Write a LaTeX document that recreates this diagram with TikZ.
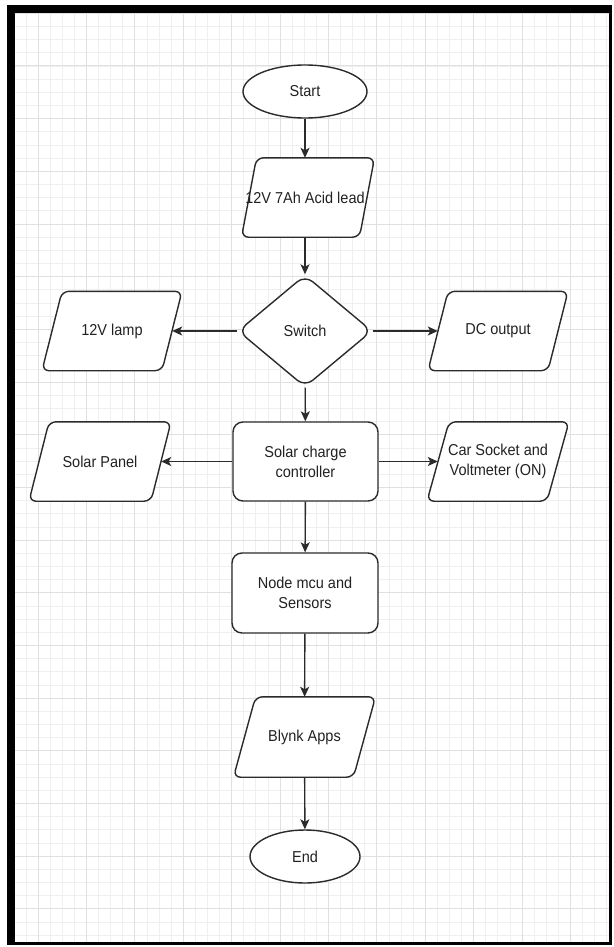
\documentclass[tikz,border=0pt]{standalone}
\usepackage{fontspec}
\setmainfont{Liberation Sans}
\usetikzlibrary{shapes.geometric,arrows.meta,calc}
\pgfdeclarelayer{bg}
\pgfdeclarelayer{mid}
\pgfsetlayers{bg,mid,main}
\definecolor{lc}{HTML}{2B2B2B}
\definecolor{txt}{HTML}{222222}
\definecolor{gminor}{HTML}{EFEFEF}
\definecolor{gmajor}{HTML}{E0E0E0}
\newcommand\T[1]{\scalebox{1}[1.09]{#1}}
\newcommand\drawpara[4]{% node, half edge, slant, x offset
  \draw[shapeline, rounded corners=7pt, fill=white]
    ($(#1.north)+(#4-#2+#3/2,0)$) -- ($(#1.north)+(#4+#2+#3/2,0)$) --
    ($(#1.south)+(#4+#2-#3/2,0)$) -- ($(#1.south)+(#4-#2-#3/2,0)$) -- cycle;}
\begin{document}
\begin{tikzpicture}[x=1pt,y=-1pt,
  shapeline/.style={draw=lc, line width=1.4pt},
  base/.style={inner sep=0pt, align=center, text=txt, font=\fontsize{14.5}{20}\selectfont},
  term/.style={base, ellipse, shapeline, fill=white},
  proc/.style={base, rectangle, shapeline, fill=white, rounded corners=10pt, minimum width=145pt, minimum height=79pt},
  dec/.style={base, diamond, shapeline, fill=white, rounded corners=10pt, minimum width=134pt, minimum height=112pt},
  paratext/.style={base, rectangle, minimum height=79pt},
  arr/.style={draw=lc, line width=1.4pt, -{Stealth[length=10pt,width=9pt,inset=2.5pt]}}]
\useasboundingbox (0,0) rectangle (613,947);
\begin{pgfonlayer}{bg}
  \fill[white] (0,0) rectangle (613,947);
  \fill[black] (7,5) rectangle (612,945);
  \fill[white] (15,13) rectangle (609,942);
  \begin{scope}
    \clip (15,13) rectangle (609,942);
    \foreach \i in {-2,...,47} \draw[gminor, line width=0.8pt] ({38+12.1*\i},13) -- ++(0,929);
    \foreach \j in {-4,...,66} \draw[gminor, line width=0.8pt] (15,{66+13.17*\j}) -- ++(594,0);
    \foreach \i in {0,4,...,44} \draw[gmajor, line width=1pt] ({38+12.1*\i},13) -- ++(0,929);
    \foreach \j in {-4,0,...,64} \draw[gmajor, line width=1pt] (15,{66+13.17*\j}) -- ++(594,0);
  \end{scope}
\end{pgfonlayer}

\node[term, minimum width=124pt, minimum height=53pt] (start) at (305,91.5) {\T{Start}};
\node[paratext, minimum width=118pt] (batt) at (305,197.5) {\T{12V 7Ah Acid lead}};
\node[dec] (sw) at (305,331) {\T{Switch}};
\node[paratext, minimum width=120pt] (lamp) at (112,331) {\T{12V lamp}};
\node[paratext, minimum width=120pt] (dc) at (498,331) {\T{DC output}};
\node[proc] (scc) at (305.5,461.5) {\T{Solar charge}\\\T{controller}};
\node[paratext, minimum width=122pt] (solar) at (100,461.5) {\T{Solar Panel}};
\node[paratext, minimum width=120pt] (car) at (498,461.5) {\T{Car Socket and}\\\T{Voltmeter (ON)}};
\node[proc, minimum width=146pt, minimum height=80pt] (mcu) at (305,593) {\T{Node mcu and}\\\T{Sensors}};
\node[paratext, minimum width=120pt, minimum height=80pt] (blynk) at (304.5,737) {\T{Blynk Apps}};
\node[term, minimum width=110pt, minimum height=53pt] (end) at (305,856.5) {\T{End}};

\begin{pgfonlayer}{mid}
  \drawpara{batt}{59}{15}{3}
  \drawpara{lamp}{60}{20}{0}
  \drawpara{dc}{60}{20}{0}
  \drawpara{solar}{61}{20}{0}
  \drawpara{car}{60}{22}{0}
  \drawpara{blynk}{60}{22}{0}
\end{pgfonlayer}

\draw[arr] (start) -- (batt);
\draw[arr] (batt) -- (sw);
\draw[arr] (sw.west) -- (lamp.east);
\draw[arr] (sw.east) -- (dc.west);
\draw[arr] (sw) -- (scc);
\draw[arr] (scc.west) -- (solar.east);
\draw[arr] (scc.east) -- (car.west);
\draw[arr] (scc) -- (mcu);
\draw[arr] (mcu) -- (blynk);
\draw[arr] (blynk) -- (end);
\end{tikzpicture}
\end{document}
